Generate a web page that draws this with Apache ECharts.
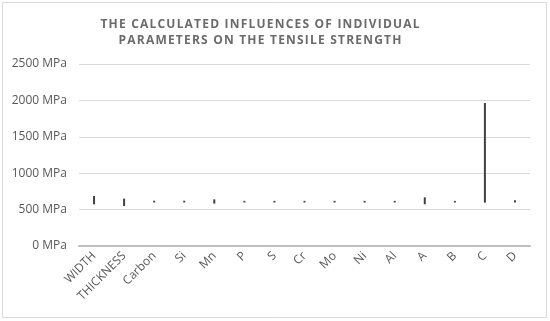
<!DOCTYPE html>
<html>
<head>
<meta charset="utf-8">
<script src="https://cdn.jsdelivr.net/npm/echarts@6/dist/echarts.min.js"></script>
<style>html,body{margin:0;padding:0;background:#fff}#c{width:550px;height:321px}</style>
</head>
<body>
<div id="c"></div>
<script>
var categories = ['WIDTH','THICKNESS','Carbon','Si','Mn','P','S','Cr','Mo','Ni','Al','A','B','C','D'];
var highValues = [687, 651, 622, 622, 641, 620, 620, 620, 620, 620, 620, 669, 620, 1965, 628];
var lowValues  = [573, 549, 598, 598, 582, 598, 598, 598, 598, 598, 598, 573, 598, 595, 598];
var yTicks = {min: 0, max: 2500, interval: 500, unit: ' MPa'};
var titleLines = ['THE CALCULATED INFLUENCES OF INDIVIDUAL', 'PARAMETERS ON THE TENSILE STRENGTH'];

function spaced(s){ return s.split('').join('\u200A'); }

var data = categories.map(function(c, i){ return [i, lowValues[i], highValues[i]]; });

var chart = echarts.init(document.getElementById('c'), null, {renderer: 'canvas'});
chart.setOption({
  animation: false,
  backgroundColor: '#ffffff',
  grid: {left: 79, right: 20, top: 64, bottom: 75},
  xAxis: {
    type: 'category',
    data: categories,
    boundaryGap: true,
    axisLine: {lineStyle: {color: '#bfbfbf', width: 2}},
    axisTick: {show: false},
    axisLabel: {rotate: 45, fontSize: 12, color: '#595959', fontFamily: 'Open Sans', margin: 8, interval: 0}
  },
  yAxis: {
    type: 'value',
    min: yTicks.min, max: yTicks.max, interval: yTicks.interval,
    axisLine: {show: false},
    axisTick: {show: false},
    splitLine: {lineStyle: {color: '#d9d9d9', width: 1}},
    axisLabel: {formatter: function(v){ return String(v) + yTicks.unit; }, fontSize: 12, color: '#595959', fontFamily: 'Open Sans', margin: 12}
  },
  graphic: [
    {type: 'rect', shape: {x: 2.5, y: 2.5, width: 544, height: 315}, style: {fill: 'none', stroke: '#d9d9d9', lineWidth: 1}, silent: true, z: -1},
    {type: 'text', x: 260, y: 17, style: {text: spaced(titleLines[0]) + '\n' + spaced(titleLines[1]), textAlign: 'center', fill: '#6b6b6b', font: 'bold 12px "Open Sans"', lineHeight: 16}}
  ],
  series: [{
    type: 'custom',
    data: data,
    encode: {x: 0, y: [1, 2]},
    renderItem: function(params, api){
      var p1 = api.coord([api.value(0), api.value(1)]);
      var p2 = api.coord([api.value(0), api.value(2)]);
      return {type: 'line', shape: {x1: p1[0], y1: p1[1], x2: p2[0], y2: p2[1]}, style: {stroke: '#404040', lineWidth: 2}};
    }
  }]
});
</script>
</body>
</html>
